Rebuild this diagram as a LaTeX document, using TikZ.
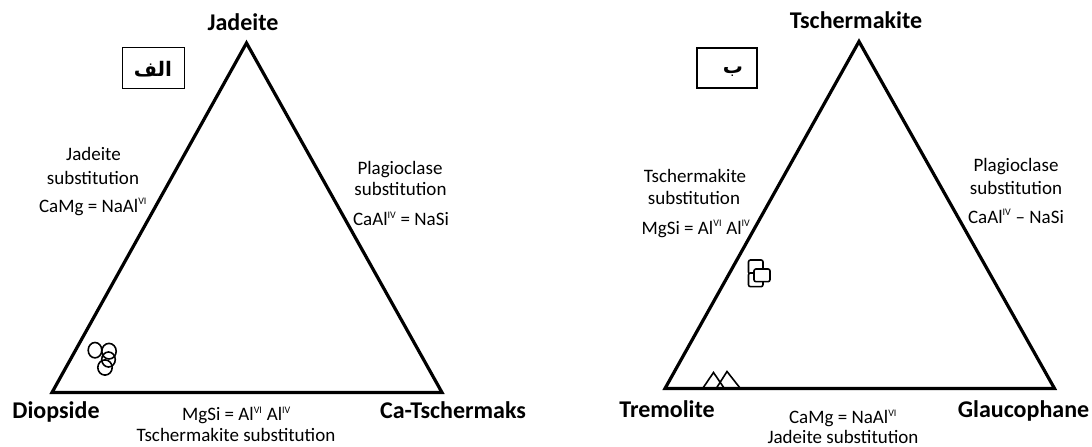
\documentclass[tikz,border=0pt]{standalone}
\usepackage{fontspec}
\setmainfont{Carlito}
\newfontfamily\arabicfont[Script=Arabic]{DejaVu Sans}
\TeXXeTstate=1
\newcommand\supr[1]{\textsuperscript{\fontsize{10bp}{10bp}\selectfont #1}}
\begin{document}
\begin{tikzpicture}[x=1bp,y=-1bp,
  tri/.style={line width=3.2bp, line join=miter},
  lbl/.style={font=\fontsize{19bp}{22bp}\selectfont, inner sep=0, anchor=base},
  vtx/.style={font=\fontsize{24bp}{28bp}\selectfont\bfseries, inner sep=0, anchor=base},
  boxed/.style={draw, line width=1.8bp, minimum width=62bp, minimum height=41bp, inner sep=0},
  arab/.style={font=\fontsize{20bp}{24bp}\selectfont\arabicfont\bfseries, inner sep=0},
  mk/.style={line width=1.6bp},
  mkfill/.style={line width=1.6bp, fill=white, rounded corners=2bp}]
\path[use as bounding box, fill=white] (0,0) rectangle (1092,447);

% ---------- left diagram ----------
\coordinate (J1) at (246.5,43);
\coordinate (D1) at (52,392.5);
\coordinate (C1) at (442,392.5);
\draw[tri] (J1) -- (D1) -- (C1) -- cycle;

\node[vtx] (jad) at (243,30.7) {Jadeite};
\node[vtx] (dio) at (56,418.3) {Diopside};
\node[vtx] (cat) at (453,418.3) {Ca-Tschermaks};

\node[boxed] (boxA) at (153.5,68) {};
\node[arab] (alef) at (153,69) {\beginR الف\endR};

\node[lbl] (l1a) at (93.5,160.7) {Jadeite};
\node[lbl] (l1b) at (93,184.3) {substitution};
\node[lbl] (l1c) at (93,212.3) {CaMg = NaAl\supr{VI}};

\node[lbl] (r1a) at (400,175) {Plagioclase};
\node[lbl] (r1b) at (400.5,196) {substitution};
\node[lbl] (r1c) at (401,225.7) {CaAl\supr{IV} = NaSi};

\node[lbl] (b1a) at (236.5,420.7) {MgSi = Al\supr{VI} Al\supr{IV}};
\node[lbl] (b1b) at (236,441.7) {Tschermakite substitution};

\draw[mk] (95,350.2) circle[x radius=6.8, y radius=7.7];
\draw[mk] (109,351.2) circle[x radius=7.2, y radius=7.8];
\draw[mk] (108.5,359.5) circle[x radius=6.8, y radius=7.5];
\draw[mk] (105,367.5) circle[x radius=7.2, y radius=7.6];

% ---------- right diagram ----------
\coordinate (T2) at (859,41.5);
\coordinate (R2) at (665,388.5);
\coordinate (G2) at (1054.5,388.5);
\draw[tri] (T2) -- (R2) -- (G2) -- cycle;

\node[vtx] (tsc) at (856,28.3) {Tschermakite};
\node[vtx] (tre) at (667,418) {Tremolite};
\node[vtx] (gla) at (1023.5,418) {Glaucophane};

\node[boxed, minimum width=60bp, minimum height=40bp] (boxB) at (727,68) {};
\node[arab] (be) at (733,72) {\beginR ب\endR};

\node[lbl] (l2a) at (695,182.7) {Tschermakite};
\node[lbl] (l2b) at (694,204.3) {substitution};
\node[lbl] (l2c) at (696,234.3) {MgSi = Al\supr{VI} Al\supr{IV}};

\node[lbl] (r2a) at (1016,171.7) {Plagioclase};
\node[lbl] (r2b) at (1016,194.3) {substitution};
\node[lbl] (r2c) at (1016,223.3) {CaAl\supr{IV} – NaSi};

\node[lbl] (b2a) at (843,423.5) {CaMg = NaAl\supr{VI}};
\node[lbl] (b2b) at (843,443.5) {Jadeite substitution};

\draw[mkfill] (748.5,260) rectangle (763,274);
\draw[mkfill] (748.5,273) rectangle (763,286.7);
\draw[mkfill] (754,269) rectangle (770,281.7);

\draw[mk, line join=miter] (703,388) -- (713.5,372.5) -- (724,388);
\draw[mk, line join=miter] (716.5,388) -- (727,371.5) -- (740,388);
\end{tikzpicture}
\end{document}
